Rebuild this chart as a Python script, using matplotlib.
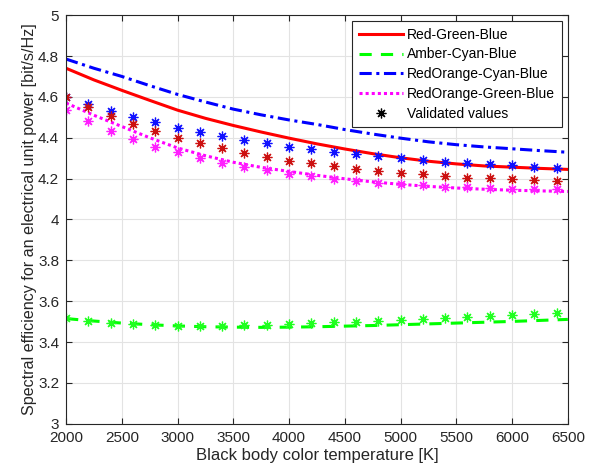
import numpy as np
import matplotlib.pyplot as plt
from matplotlib.lines import Line2D

plt.rcParams["font.family"] = ["Liberation Sans", "DejaVu Sans"]

# model curves, sampled every 250 K
T_line = [2000, 2250, 2500, 2750, 3000, 3250, 3500, 3750, 4000, 4250,
          4500, 4750, 5000, 5250, 5500, 5750, 6000, 6250, 6500]
rgb_line = [4.740, 4.683, 4.632, 4.583, 4.535, 4.495, 4.460, 4.428, 4.398, 4.370,
            4.345, 4.322, 4.302, 4.285, 4.272, 4.262, 4.256, 4.250, 4.245]
acb_line = [3.515, 3.503, 3.493, 3.485, 3.479, 3.475, 3.473, 3.472, 3.473, 3.475,
            3.478, 3.481, 3.485, 3.489, 3.493, 3.497, 3.501, 3.506, 3.511]
rocb_line = [4.785, 4.740, 4.700, 4.655, 4.612, 4.575, 4.540, 4.512, 4.487, 4.465,
             4.440, 4.418, 4.398, 4.380, 4.366, 4.355, 4.346, 4.337, 4.329]
rogb_line = [4.570, 4.510, 4.455, 4.400, 4.350, 4.312, 4.280, 4.255, 4.235, 4.216,
             4.199, 4.184, 4.172, 4.162, 4.154, 4.148, 4.143, 4.140, 4.137]

# validated values, every 200 K
T_pts = [2000, 2200, 2400, 2600, 2800, 3000, 3200, 3400, 3600, 3800, 4000, 4200,
         4400, 4600, 4800, 5000, 5200, 5400, 5600, 5800, 6000, 6200, 6400]
rgb_pts = [4.597, 4.548, 4.506, 4.467, 4.431, 4.400, 4.372, 4.348, 4.327, 4.306, 4.288, 4.278,
           4.262, 4.249, 4.237, 4.229, 4.221, 4.213, 4.205, 4.202, 4.197, 4.192, 4.189]
acb_pts = [3.518, 3.505, 3.493, 3.487, 3.484, 3.481, 3.481, 3.481, 3.485, 3.486, 3.488, 3.491,
           3.496, 3.499, 3.503, 3.507, 3.512, 3.516, 3.523, 3.527, 3.532, 3.537, 3.542]
rocb_pts = [4.600, 4.563, 4.532, 4.502, 4.475, 4.450, 4.426, 4.408, 4.389, 4.372, 4.356, 4.343,
            4.332, 4.322, 4.311, 4.299, 4.291, 4.283, 4.278, 4.273, 4.267, 4.259, 4.254]
rogb_pts = [4.535, 4.481, 4.434, 4.393, 4.356, 4.328, 4.299, 4.278, 4.255, 4.240, 4.223, 4.213,
            4.200, 4.189, 4.180, 4.172, 4.167, 4.161, 4.158, 4.154, 4.151, 4.150, 4.148]

ASTERISK = (8, 2, 0)


def main():
    fig = plt.figure(figsize=(6.06, 4.73), dpi=100)
    ax = fig.add_axes([0.109, 0.104, 0.828, 0.864])

    ax.plot(T_line, rgb_line, color="#ff0000", lw=2.2, label="Red-Green-Blue")
    ax.plot(T_line, acb_line, color="#00ff00", lw=2.2, ls=(0, (4, 3)), label="Amber-Cyan-Blue")
    ax.plot(T_line, rocb_line, color="#0000ff", lw=2.2, ls=(0, (4, 1.5, 1, 1.5)), label="RedOrange-Cyan-Blue")
    ax.plot(T_line, rogb_line, color="#ff00ff", lw=2.2, ls=(0, (1, 1)), label="RedOrange-Green-Blue")

    ms = 7
    mew = 0.9
    ax.plot(T_pts, rocb_pts, ls="none", marker=ASTERISK, ms=ms, mew=mew, color="#1010ff")
    ax.plot(T_pts, rgb_pts, ls="none", marker=ASTERISK, ms=ms, mew=mew, color="#cc1010")
    ax.plot(T_pts, rogb_pts, ls="none", marker=ASTERISK, ms=ms, mew=mew, color="#ff20ff")
    ax.plot(T_pts, acb_pts, ls="none", marker=ASTERISK, ms=ms, mew=mew, color="#20ff20")

    ax.set_xlim(2000, 6500)
    ax.set_ylim(3, 5)
    ax.set_xticks(np.arange(2000, 6501, 500))
    ax.set_yticks(np.arange(3, 5.01, 0.2))
    ax.set_yticklabels(["3", "3.2", "3.4", "3.6", "3.8", "4", "4.2", "4.4", "4.6", "4.8", "5"])

    ax.grid(True, color="#e3e3e3", lw=0.8)
    ax.set_axisbelow(True)
    ax.tick_params(direction="in", length=4, width=0.8, colors="#262626", labelsize=11,
                   top=True, right=True, labeltop=False, labelright=False, pad=5)
    for s in ax.spines.values():
        s.set_color("#262626")
        s.set_linewidth(0.8)

    ax.set_xlabel("Black body color temperature [K]", fontsize=12, color="#262626", labelpad=2)
    ax.set_ylabel("Spectral efficiency for an electrical unit power [bit/s/Hz]", fontsize=11.6,
                  color="#262626", labelpad=1)

    handles, labels = ax.get_legend_handles_labels()
    handles.append(Line2D([], [], ls="none", marker=ASTERISK, ms=ms, mew=mew, color="black"))
    labels.append("Validated values")
    leg = ax.legend(handles, labels, loc="upper right", fontsize=10, handlelength=3.2,
                    handletextpad=0.3, borderpad=0.45, labelspacing=0.42, fancybox=False,
                    framealpha=1, borderaxespad=0.45)
    leg.get_frame().set_edgecolor("#262626")
    leg.get_frame().set_linewidth(0.8)

    fig.savefig("out.png", dpi=100)
    plt.close(fig)


if __name__ == "__main__":
    main()
